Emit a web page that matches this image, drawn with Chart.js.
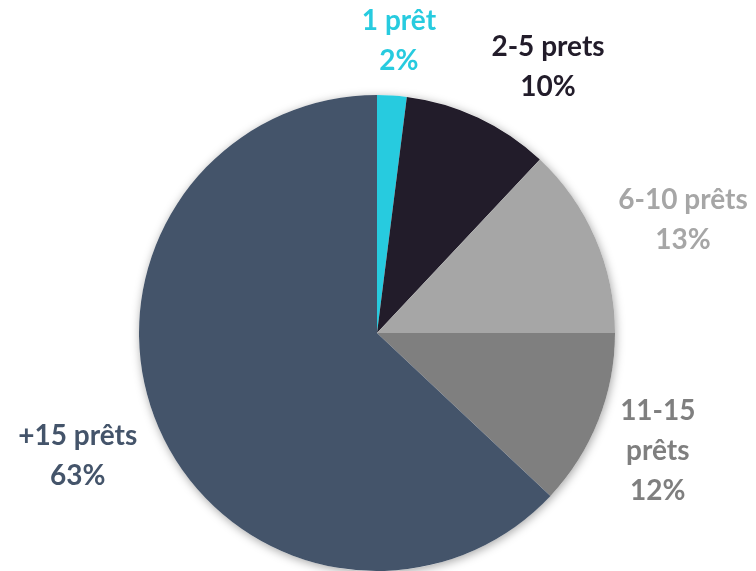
<!DOCTYPE html>
<html>
<head>
<meta charset="utf-8">
<script src="https://cdn.jsdelivr.net/npm/chart.js@4.4.1/dist/chart.umd.min.js"></script>
<style>
  html, body { margin: 0; padding: 0; background: #fff; }
  #wrap { width: 756px; height: 571px; }
</style>
</head>
<body>
<div id="wrap"><canvas id="pieChart"></canvas></div>
<script>
const categories = ['1 prêt', '2-5 prets', '6-10 prêts', '11-15 prêts', '+15 prêts'];
const shares = [2, 10, 13, 12, 63];
const sliceColors = ['#27CBDF', '#221C2A', '#A6A6A6', '#7F7F7F', '#44546A'];
// how each label is broken into lines
const labelLines = [['1 prêt'], ['2-5 prets'], ['6-10 prêts'], ['11-15', 'prêts'], ['+15 prêts']];
// distance of label centre from pie centre (x radius) and turn from the slice middle (degrees)
const labelDist = [1.23, 1.33, 1.37, 1.28, 1.36];
const labelTurn = [0.7, 7.5, 3.2, 1.2, 1.0];

const shadowPlugin = {
    id: 'pieShadow',
    beforeDatasetsDraw(chart) {
        const arc = chart.getDatasetMeta(0).data[0];
        if (!arc) return;
        const ctx = chart.ctx;
        ctx.save();
        ctx.shadowColor = 'rgba(0,0,0,0.35)';
        ctx.shadowBlur = 10;
        ctx.shadowOffsetX = 1;
        ctx.shadowOffsetY = 2;
        ctx.fillStyle = '#ffffff';
        ctx.beginPath();
        ctx.arc(arc.x, arc.y, arc.outerRadius, 0, Math.PI * 2);
        ctx.fill();
        ctx.restore();
    }
};

const outsideLabels = {
    id: 'outsideLabels',
    afterDatasetsDraw(chart) {
        const ctx = chart.ctx;
        const meta = chart.getDatasetMeta(0);
        ctx.save();
        ctx.font = 'bold 28px Lato';
        ctx.textAlign = 'center';
        ctx.textBaseline = 'middle';
        meta.data.forEach((arc, i) => {
            const mid = (arc.startAngle + arc.endAngle) / 2 + labelTurn[i] * Math.PI / 180;
            const d = arc.outerRadius * labelDist[i];
            const cx = arc.x + Math.cos(mid) * d;
            const cy = arc.y + Math.sin(mid) * d;
            const lines = labelLines[i].concat([shares[i] + '%']);
            const lh = 40;
            const top = cy - (lines.length - 1) * lh / 2;
            ctx.fillStyle = sliceColors[i];
            lines.forEach((t, j) => {
                ctx.fillText(t, cx, top + j * lh);
            });
        });
        ctx.restore();
    }
};

const ctx = document.getElementById('pieChart').getContext('2d');
new Chart(ctx, {
    type: 'pie',
    data: {
        labels: categories,
        datasets: [{
            data: shares,
            backgroundColor: sliceColors,
            borderWidth: 0
        }]
    },
    options: {
        responsive: true,
        maintainAspectRatio: false,
        animation: false,
        layout: {
            padding: { top: 95, bottom: 0, left: 0, right: 2 }
        },
        plugins: {
            legend: { display: false },
            tooltip: { enabled: false }
        }
    },
    plugins: [shadowPlugin, outsideLabels]
});
</script>
</body>
</html>
